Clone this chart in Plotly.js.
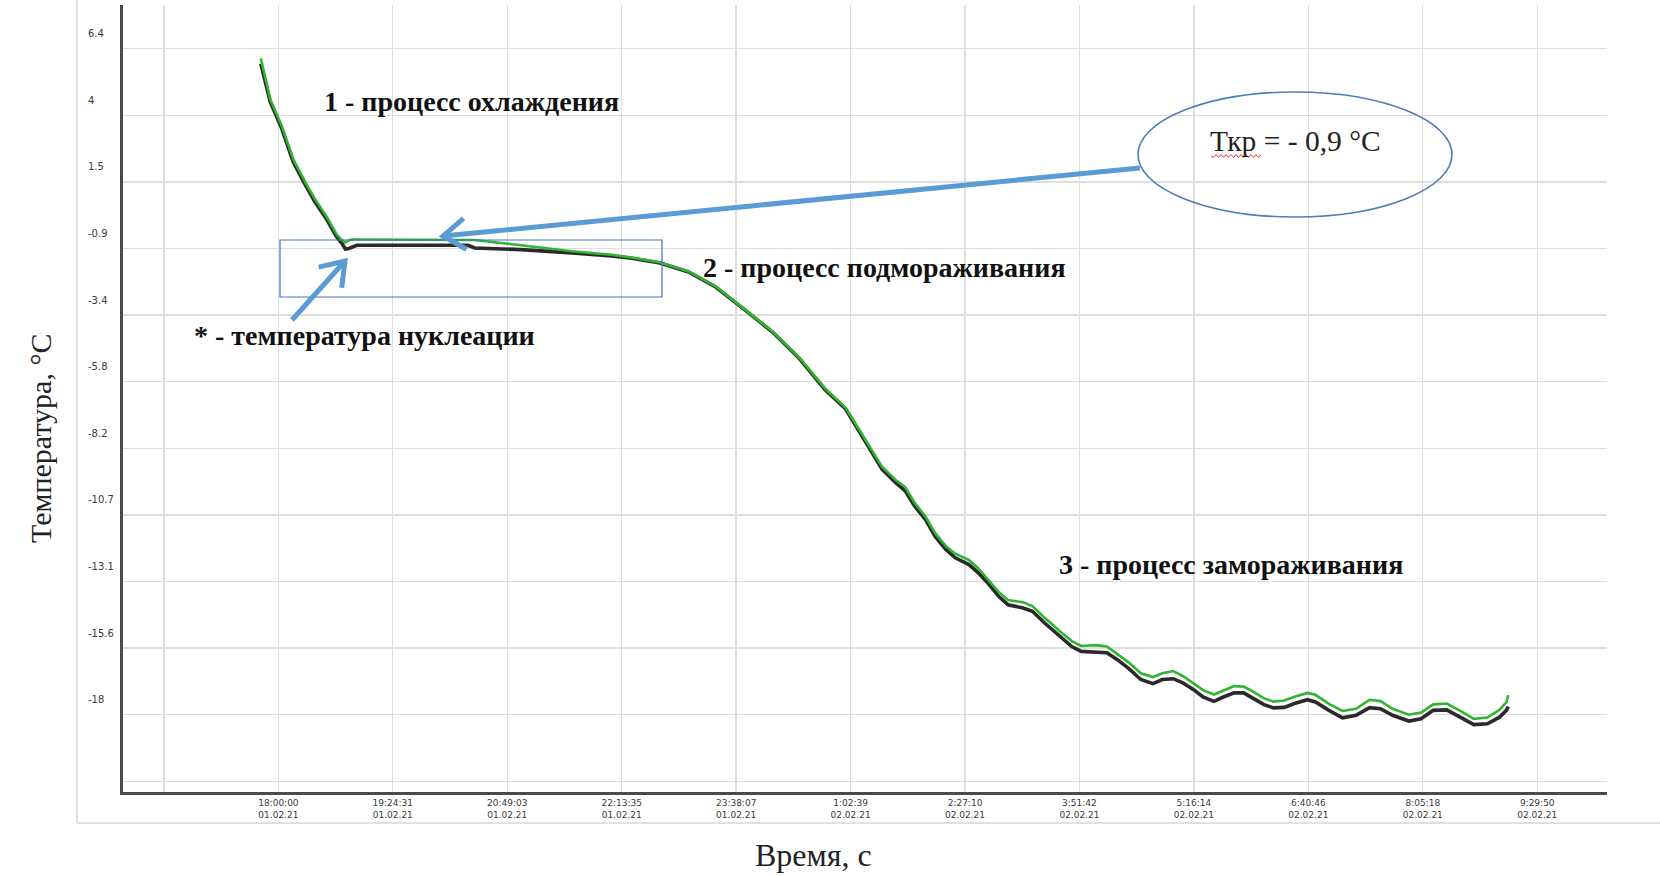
<!DOCTYPE html>
<html>
<head>
<meta charset="utf-8">
<script src="https://cdn.plot.ly/plotly-3.0.1.min.js"></script>
<style>html,body{margin:0;padding:0;background:#fff;}#chart{width:1660px;height:876px;}</style>
</head>
<body>
<div id="chart"></div>
<script>
// ---- data ----
const times = [
 "2021-02-01 17:47:00","2021-02-01 17:54:00","2021-02-01 18:02:30","2021-02-01 18:11:00","2021-02-01 18:20:00",
 "2021-02-01 18:27:00","2021-02-01 18:36:00","2021-02-01 18:43:00","2021-02-01 18:47:00","2021-02-01 18:49:30",
 "2021-02-01 18:52:00","2021-02-01 18:54:30","2021-02-01 18:58:00","2021-02-01 19:30:00","2021-02-01 20:00:00",
 "2021-02-01 20:20:00","2021-02-01 20:25:00","2021-02-01 20:59:00","2021-02-01 21:37:00","2021-02-01 22:06:00",
 "2021-02-01 22:21:00","2021-02-01 22:42:00","2021-02-01 23:03:00","2021-02-01 23:23:00","2021-02-01 23:45:00",
 "2021-02-02 00:05:00","2021-02-02 00:25:00","2021-02-02 00:44:00","2021-02-02 00:59:00","2021-02-02 01:11:00",
 "2021-02-02 01:19:00","2021-02-02 01:26:00","2021-02-02 01:36:00","2021-02-02 01:43:00","2021-02-02 01:50:00",
 "2021-02-02 01:58:00","2021-02-02 02:05:00","2021-02-02 02:13:00","2021-02-02 02:20:00","2021-02-02 02:30:00",
 "2021-02-02 02:37:00","2021-02-02 02:45:00","2021-02-02 02:52:00","2021-02-02 02:59:00","2021-02-02 03:10:00",
 "2021-02-02 03:17:00","2021-02-02 03:26:00","2021-02-02 03:37:00","2021-02-02 03:46:00","2021-02-02 03:53:00",
 "2021-02-02 04:04:00","2021-02-02 04:12:00","2021-02-02 04:20:00","2021-02-02 04:28:00","2021-02-02 04:37:00",
 "2021-02-02 04:46:00","2021-02-02 04:53:00","2021-02-02 05:01:00","2021-02-02 05:08:00","2021-02-02 05:16:00",
 "2021-02-02 05:23:00","2021-02-02 05:31:00","2021-02-02 05:38:00","2021-02-02 05:46:00","2021-02-02 05:53:00",
 "2021-02-02 06:00:00","2021-02-02 06:08:00","2021-02-02 06:15:00","2021-02-02 06:23:00","2021-02-02 06:30:00",
 "2021-02-02 06:40:00","2021-02-02 06:46:00","2021-02-02 06:56:00","2021-02-02 07:06:00","2021-02-02 07:16:00",
 "2021-02-02 07:26:00","2021-02-02 07:34:00","2021-02-02 07:43:00","2021-02-02 07:55:00","2021-02-02 08:04:00",
 "2021-02-02 08:13:00","2021-02-02 08:23:00","2021-02-02 08:33:00","2021-02-02 08:43:00","2021-02-02 08:53:00",
 "2021-02-02 09:02:00","2021-02-02 09:07:00","2021-02-02 09:08:30"
];
const tempBlack = [
 5.85,4.45,3.47,2.25,1.40, 0.79,0.12,-0.49,-0.74,-0.94, -0.92,-0.86,-0.80,-0.80,-0.80,
 -0.80,-0.90,-0.96,-1.08,-1.19, -1.28,-1.45,-1.78,-2.33,-3.19, -3.98,-4.96,-6.10,-6.80,-7.78,
 -8.40,-9.01,-9.50,-9.80,-10.36, -10.85,-11.46,-11.95,-12.25,-12.50, -12.80,-13.23,-13.66,-13.97,-14.09,
 -14.21,-14.64,-15.13,-15.50,-15.68, -15.71,-15.73,-15.99,-16.30,-16.71, -16.86,-16.71,-16.68,-16.83,-17.08,
 -17.35,-17.51,-17.35,-17.20,-17.20, -17.39,-17.63,-17.75,-17.73,-17.60, -17.45,-17.53,-17.84,-18.11,-18.02,
 -17.74,-17.78,-18.02,-18.23,-18.15, -17.84,-17.82,-18.09,-18.36,-18.33, -18.09,-17.84,-17.70
];
const tempGreen = [
 6.05,4.55,3.57,2.35,1.50, 0.89,0.22,-0.40,-0.62,-0.70, -0.62,-0.59,-0.59,-0.59,-0.59,
 -0.60,-0.61,-0.80,-1.02,-1.15, -1.25,-1.43,-1.76,-2.31,-3.17, -3.96,-4.93,-6.06,-6.76,-7.73,
 -8.34,-8.92,-9.40,-9.66,-10.24, -10.74,-11.34,-11.82,-12.10,-12.33, -12.64,-13.08,-13.50,-13.80,-13.88,
 -14.02,-14.45,-14.93,-15.30,-15.48, -15.45,-15.50,-15.78,-16.08,-16.48, -16.62,-16.48,-16.40,-16.58,-16.85,
 -17.10,-17.26,-17.12,-16.95,-16.97, -17.15,-17.40,-17.52,-17.48,-17.35, -17.20,-17.27,-17.60,-17.86,-17.78,
 -17.45,-17.50,-17.78,-18.00,-17.92, -17.62,-17.59,-17.86,-18.15,-18.10, -17.82,-17.55,-17.28
];
const xTickVals = [
 "2021-02-01 16:35:28","2021-02-01 18:00:00","2021-02-01 19:24:31","2021-02-01 20:49:03","2021-02-01 22:13:35",
 "2021-02-01 23:38:07","2021-02-02 01:02:39","2021-02-02 02:27:10","2021-02-02 03:51:42","2021-02-02 05:16:14",
 "2021-02-02 06:40:46","2021-02-02 08:05:18","2021-02-02 09:29:50"
];
const xTickText = [
 "","18:00:00<br>01.02.21","19:24:31<br>01.02.21","20:49:03<br>01.02.21","22:13:35<br>01.02.21",
 "23:38:07<br>01.02.21","1:02:39<br>02.02.21","2:27:10<br>02.02.21","3:51:42<br>02.02.21","5:16:14<br>02.02.21",
 "6:40:46<br>02.02.21","8:05:18<br>02.02.21","9:29:50<br>02.02.21"
];
const yTickVals = [6.4,3.96,1.52,-0.92,-3.36,-5.8,-8.24,-10.68,-13.12,-15.56,-18,-20.44];
const yTickText = ["6.4","4","1.5","-0.9","-3.4","-5.8","-8.2","-10.7","-13.1","-15.6","-18",""];

// ---- layout helpers (pixel -> paper) ----
const L = 123, T = 5, W = 1484, H = 787;
const px = x => (x - L) / W;
const py = y => (H + T - y) / H;

function arrowShapes(x1, y1, x2, y2, color, width, armLen) {
  const dx = x1 - x2, dy = y1 - y2, len = Math.hypot(dx, dy);
  const ux = dx / len, uy = dy / len, a = 35 * Math.PI / 180, c = Math.cos(a), s = Math.sin(a);
  const a1 = [x2 + armLen * (ux * c - uy * s), y2 + armLen * (ux * s + uy * c)];
  const a2 = [x2 + armLen * (ux * c + uy * s), y2 + armLen * (-ux * s + uy * c)];
  return [
    {type:'line', xref:'paper', yref:'paper', x0:px(x1), y0:py(y1), x1:px(x2), y1:py(y2), line:{color:color, width:width}},
    {type:'path', xref:'paper', yref:'paper',
     path:`M ${px(a1[0])},${py(a1[1])} L ${px(x2)},${py(y2)} L ${px(a2[0])},${py(a2[1])}`,
     line:{color:color, width:width}}
  ];
}
function wavy(x0, x1, y, amp, step) {
  let p = `M ${px(x0)},${py(y)}`, k = 0;
  for (let x = x0 + step; x <= x1; x += step) {
    k++;
    p += ` L ${px(x)},${py(k % 2 ? y + amp : y - amp)}`;
  }
  return p;
}

const blue = '#5b9bd5';
const shapes = [
  {type:'line', xref:'paper', yref:'paper', x0:px(77), y0:py(0), x1:px(77), y1:py(823), line:{color:'#d6d6d6', width:1.5}},
  {type:'line', xref:'paper', yref:'paper', x0:px(77), y0:py(823), x1:px(1660), y1:py(823), line:{color:'#d6d6d6', width:1.5}},
  {type:'circle', xref:'paper', yref:'paper', x0:px(1138), x1:px(1452), y0:py(217), y1:py(92), line:{color:'#4a7ebb', width:1.6}},
  {type:'rect', xref:'paper', yref:'paper', x0:px(280), x1:px(662), y0:py(297), y1:py(240), line:{color:'#4472c4', width:1.2}},
  ...arrowShapes(1140, 168, 443, 236, blue, 5, 27),
  ...arrowShapes(292, 320, 345, 261, blue, 5, 27),
  {type:'path', xref:'paper', yref:'paper', path: wavy(1211, 1262, 156, 1.4, 2.5), line:{color:'#e03030', width:1}}
];

const tickFont = {family:'DejaVu Sans, Arial, sans-serif', size:10, color:'#3a3a3a'};
const boldFont = {family:'Liberation Serif, Times New Roman, serif', size:28, color:'#111'};
const serif = {family:'Liberation Serif, Times New Roman, serif', size:29.5, color:'#222'};

const annotations = [];
yTickVals.forEach((v, i) => {
  if (yTickText[i] !== '') annotations.push({xref:'paper', yref:'y', x:px(86), y:v, xanchor:'left', yanchor:'middle',
    yshift:15, text:yTickText[i], showarrow:false, font:tickFont});
});
function txt(text, xLeft, yMid, font) {
  annotations.push({xref:'paper', yref:'paper', x:px(xLeft), y:py(yMid), xanchor:'left', yanchor:'middle', text:text, showarrow:false, font:font});
}
txt('<b>1 - процесс охлаждения</b>', 322, 102, boldFont);
txt('<b>2 - процесс подмораживания</b>', 701, 267, boldFont);
txt('<b>3 - процесс замораживания</b>', 1057, 564, boldFont);
txt('<b>* - температура нуклеации</b>', 192, 335, boldFont);
txt('Ткр = - 0,9 °C', 1208, 141, serif);
annotations.push({xref:'paper', yref:'paper', x:px(40), y:py(439), xanchor:'center', yanchor:'middle', textangle:-90,
  text:'Температура, °C', showarrow:false, font:{family:'Liberation Serif, Times New Roman, serif', size:30, color:'#222'}});
annotations.push({xref:'paper', yref:'paper', x:px(813), y:py(855), xanchor:'center', yanchor:'middle',
  text:'Время, с', showarrow:false, font:{family:'Liberation Serif, Times New Roman, serif', size:32, color:'#222'}});

const data = [
  {type:'scatter', mode:'lines', x:times, y:tempBlack, line:{color:'#2a2a2a', width:3.6}, hoverinfo:'skip', showlegend:false},
  {type:'scatter', mode:'lines', x:times, y:tempGreen, line:{color:'#2fb52f', width:2.6}, hoverinfo:'skip', showlegend:false}
];

const layout = {
  width:1660, height:876,
  margin:{l:L, r:1660 - L - W, t:T, b:876 - T - H},
  paper_bgcolor:'#ffffff', plot_bgcolor:'#ffffff',
  showlegend:false,
  xaxis:{type:'date', range:["2021-02-01 16:05:14","2021-02-02 10:21:22"], tickmode:'array', tickvals:xTickVals, ticktext:xTickText,
    showgrid:true, gridcolor:'#dedede', gridwidth:1.3, zeroline:false, showline:true, linecolor:'#4a4a4a', linewidth:3,
    ticks:'', tickfont:{family:'DejaVu Sans, Arial, sans-serif', size:9, color:'#3a3a3a'}, automargin:false, fixedrange:true},
  yaxis:{range:[-20.83, 8.0], tickmode:'array', tickvals:yTickVals, showticklabels:false,
    showgrid:true, gridcolor:'#dedede', gridwidth:1.3, zeroline:false, showline:true, linecolor:'#4a4a4a', linewidth:3,
    ticks:'', automargin:false, fixedrange:true},
  shapes:shapes,
  annotations:annotations
};

Plotly.newPlot('chart', data, layout, {displayModeBar:false, staticPlot:true});
</script>
</body>
</html>
